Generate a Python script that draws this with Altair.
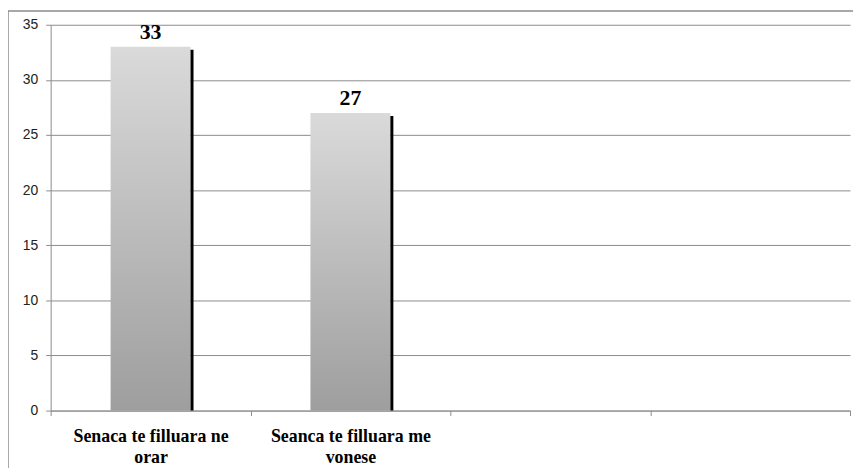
import altair as alt
import pandas as pd

categories = ["Senaca te filluara ne\norar", "Seanca te filluara me\nvonese"]
values = [33, 27]
empty_slots = [" ", "  "]
y_ticks = [0, 5, 10, 15, 20, 25, 30, 35]

df = pd.DataFrame({"cat": categories, "val": values})
domain = categories + empty_slots

GRAY = "#8c8c8c"
STEP = 806 / 4
BANDWIDTH = STEP * 0.4

xscale = alt.Scale(domain=domain, paddingInner=0, paddingOuter=0)
yscale = alt.Scale(domain=[0, 35], nice=False)

x_axis = alt.Axis(
    title=None, labelAngle=0, labelExpr="split(datum.label, '\\n')",
    labelFont="Liberation Serif", labelFontWeight="bold", labelFontSize=18,
    labelColor="black", labelLineHeight=21, tickBand="extent", tickSize=5,
    domainColor=GRAY, tickColor=GRAY, labelPadding=26, labelLimit=0,
    labelBaseline="alphabetic",
)
y_axis = alt.Axis(
    title=None, values=y_ticks, grid=True, gridColor=GRAY, domainColor=GRAY,
    tickColor=GRAY, tickSize=5, labelFont="Liberation Sans", labelFontSize=14,
    labelColor="#222222", labelPadding=8,
)

base = alt.Chart(df)

frame = alt.Chart(pd.DataFrame({"a": [0]})).mark_rect(
    fill="transparent", stroke=GRAY, strokeWidth=1.5
).encode(x=alt.value(-43), x2=alt.value(950), y=alt.value(-14), y2=alt.value(700))

bars = base.mark_bar(
    width=alt.RelativeBandSize(0.4),
    color=alt.Gradient(
        gradient="linear",
        stops=[alt.GradientStop(color="#dadada", offset=0),
               alt.GradientStop(color="#9e9e9e", offset=1)],
        x1=0, x2=0, y1=0, y2=1,
    ),
).encode(
    x=alt.X("cat:N", scale=xscale, axis=x_axis),
    y=alt.Y("val:Q", scale=yscale, axis=y_axis),
)

shadow = base.mark_rule(
    color="black", strokeWidth=3, xOffset=BANDWIDTH / 2 + 1.5, yOffset=3, y2Offset=0
).encode(
    x=alt.X("cat:N", scale=xscale),
    y=alt.Y("val:Q", scale=yscale),
    y2=alt.datum(0),
)

labels = base.mark_text(
    dy=-8, baseline="alphabetic", font="Liberation Serif", fontWeight="bold", fontSize=22, color="black"
).encode(
    x=alt.X("cat:N", scale=xscale),
    y=alt.Y("val:Q", scale=yscale),
    text=alt.Text("val:Q"),
)

chart = alt.layer(frame, bars, shadow, labels).properties(
    width=806, height=389,
    autosize=alt.AutoSizeParams(type="none"),
    padding={"left": 43, "top": 15, "right": 3, "bottom": 56},
    background="white",
).configure_view(stroke=None)

chart.save("out.html", embed_options={"renderer": "svg", "actions": False})
